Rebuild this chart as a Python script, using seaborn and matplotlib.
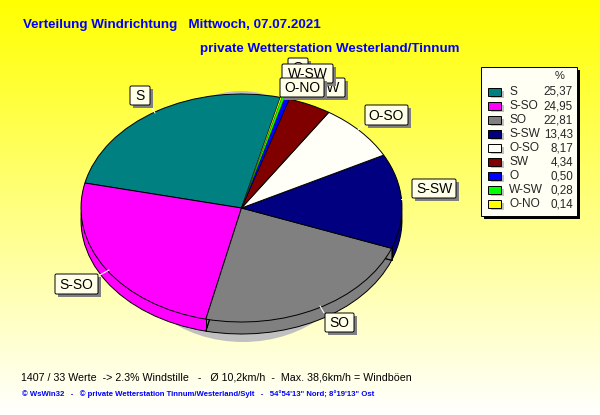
import numpy as np
import matplotlib
matplotlib.use("Agg")
import matplotlib.pyplot as plt
from matplotlib.patches import Ellipse, FancyBboxPatch, Rectangle
import seaborn as sns

# wind directions, same order in pie and legend
directions = ["S", "S-SO", "SO", "S-SW", "O-SO", "SW", "O", "W-SW", "O-NO"]
shares = [25.37, 24.95, 22.81, 13.43, 8.17, 4.34, 0.50, 0.28, 0.14]
share_labels = ["25,37", "24,95", "22,81", "13,43", "8,17", "4,34", "0,50", "0,28", "0,14"]
slice_colors = ["#008080", "#ff00ff", "#808080", "#000080", "#fffff8",
                "#800000", "#0000ff", "#00ff00", "#ffff00"]

title_left = "Verteilung Windrichtung   Mittwoch, 07.07.2021"
title_right = "private Wetterstation Westerland/Tinnum"
summary = "1407 / 33 Werte  -> 2.3% Windstille   -   Ø 10,2km/h  -  Max. 38,6km/h = Windböen"
footer = "© WsWin32   -   © private Wetterstation Tinnum/Westerland/Sylt   -   54°54'13\" Nord; 8°19'13\" Ost"

# label boxes in pixels: left, top, right, bottom
label_boxes = [(130, 86, 150, 105), (55, 274, 98, 294), (325, 313, 354, 332),
               (412, 179, 456, 198), (365, 105, 408, 125), (312, 78, 345, 97),
               (288, 58, 308, 77), (282, 64, 333, 83), (280, 78, 324, 97)]
# white leader lines from box to pie edge
leaders = [(150, 105, 155, 113), (98, 276, 109, 270), (324, 313, 320, 306),
           (412, 199, 401, 199), (365, 123, 358, 130)]

sns.set_style("white")
plt.rcParams["font.family"] = ["Liberation Sans", "DejaVu Sans"]

W, H = 600, 415
fig = plt.figure(figsize=(W / 100, H / 100), dpi=100)
palette = sns.color_palette(slice_colors)

# background, yellow fading to white
bg = fig.add_axes([0, 0, 1, 1], zorder=0)
fade = np.linspace(0, 1, 415)
grad = np.ones((415, 1, 3))
grad[:, 0, 2] = fade
bg.imshow(grad, extent=[0, W, H, 0], aspect="auto")
bg.set_xlim(0, W)
bg.set_ylim(H, 0)
bg.axis("off")
# grey shadow peeks out only at top and bottom of the pie
bg.add_patch(Ellipse((241, 216), 210, 250, fc="#c0c0c0", ec="none"))
bg.add_patch(Ellipse((243, 250), 230, 184, fc="#c0c0c0", ec="none"))

# pie axes covers the top ellipse, x and y both run -1..1
left, top, right, bottom = 81, 94, 402, 322
ax = fig.add_axes([left / W, 1 - bottom / H, (right - left) / W, (bottom - top) / H], zorder=1)
ax.patch.set_alpha(0)
start = 76
depth = 12 / ((bottom - top) / 2)

# side of the pie, stacked copies going down
for off in np.linspace(depth, 0, 13)[:-1]:
    ax.pie(shares, colors=palette, startangle=start, center=(0, -off), radius=1,
           wedgeprops={"linewidth": 0, "clip_on": False})
ax.pie(shares, colors=palette, startangle=start, center=(0, -depth), radius=1,
       wedgeprops={"linewidth": 0.7, "edgecolor": "black", "clip_on": False, "fill": False})
wedges, _ = ax.pie(shares, colors=palette, startangle=start, center=(0, 0), radius=1,
                   wedgeprops={"linewidth": 0.7, "edgecolor": "black", "clip_on": False})
# thin slices would vanish under a full outline
for w in wedges[6:]:
    w.set_linewidth(0.2)
ax.set_aspect("auto")
ax.set_xlim(-1, 1)
ax.set_ylim(-1, 1)

# vertical slice borders on the visible side
angles = np.deg2rad(start + np.cumsum(shares) / np.sum(shares) * 360)
for a in angles:
    if np.sin(a) < 0:
        ax.plot([np.cos(a)] * 2, [np.sin(a), np.sin(a) - depth], color="black", lw=0.7, clip_on=False)

# everything else on a pixel overlay
top_ax = fig.add_axes([0, 0, 1, 1], zorder=2)
top_ax.patch.set_alpha(0)
top_ax.set_xlim(0, W)
top_ax.set_ylim(H, 0)
top_ax.axis("off")

top_ax.text(23, 25, title_left, color="#0000ff", fontsize=9.65, fontweight="bold", va="center")
top_ax.text(200, 49, title_right, color="#0000ff", fontsize=9.65, fontweight="bold", va="center")
top_ax.text(21, 377, summary, color="black", fontsize=7.65, va="center")
top_ax.text(22, 394, footer, color="#0000ff", fontsize=5.55, fontweight="bold", va="center")

for x0, y0, x1, y1 in leaders:
    top_ax.plot([x0, x1], [y0, y1], color="white", lw=0.8)

# later boxes cover earlier ones, as in the original
for i, (name, (x0, y0, x1, y1)) in enumerate(zip(directions, label_boxes)):
    z = 5 + i
    top_ax.add_patch(Rectangle((x0 + 3, y0 + 3), x1 - x0, y1 - y0, fc="#808080", ec="none", zorder=z))
    top_ax.add_patch(FancyBboxPatch((x0, y0), x1 - x0, y1 - y0, boxstyle="round,pad=0,rounding_size=1.5",
                                    fc="#ffffe8", ec="black", lw=0.7, zorder=z))
    top_ax.text((x0 + x1) / 2, (y0 + y1) / 2 + 0.5, name, fontsize=10, color="black",
                ha="center", va="center", zorder=z)

# legend
top_ax.add_patch(Rectangle((484, 70), 96, 149, fc="black", ec="none"))
top_ax.add_patch(Rectangle((481, 67), 96, 149, fc="#fffff4", ec="black", lw=0.7))
top_ax.text(560, 76, "%", fontsize=8, ha="center", va="center")
for i, (name, val, col) in enumerate(zip(directions, share_labels, palette)):
    y = 92 + i * 14
    top_ax.add_patch(Rectangle((491, y - 1), 13, 7, fc="#c0c0c0", ec="none"))
    top_ax.add_patch(Rectangle((488, y - 4), 13, 8, fc=col, ec="black", lw=0.7))
    top_ax.text(509, y, name, fontsize=8.6, va="center")
    top_ax.text(573, y, val, fontsize=8.4, ha="right", va="center")

fig.savefig("out.png", dpi=100)
